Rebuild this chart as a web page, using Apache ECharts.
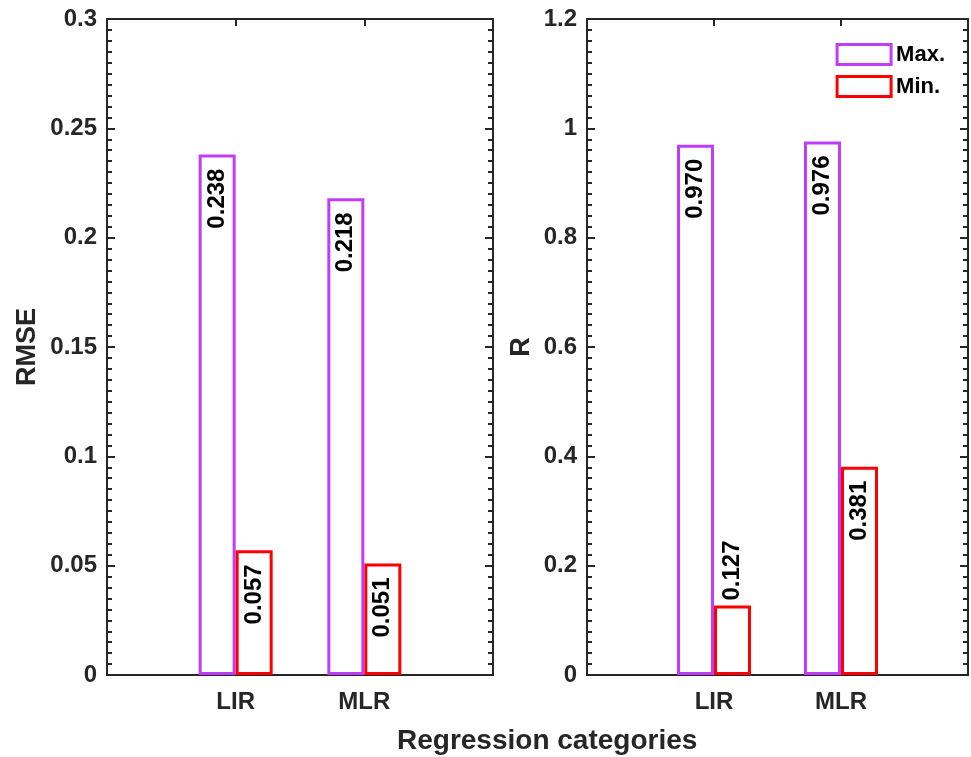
<!DOCTYPE html>
<html>
<head>
<meta charset="utf-8">
<script src="https://cdn.jsdelivr.net/npm/echarts@6/dist/echarts.min.js"></script>
<style>
  html, body { margin: 0; padding: 0; background: #fff; }
  #chart { width: 971px; height: 757px; }
</style>
</head>
<body>
<div id="chart"></div>
<script>
// categories sit at 1 and 2 on a 0..3 axis, like the original figure
const categories = ['', 'LIR', 'MLR', ''];
const rmseMax = [0.238, 0.218];
const rmseMin = [0.057, 0.051];
const rMax = [0.970, 0.976];
const rMin = [0.127, 0.381];
const rmseTicks = [0, 0.05, 0.1, 0.15, 0.2, 0.25, 0.3];
const rTicks = [0, 0.2, 0.4, 0.6, 0.8, 1, 1.2];

const axisColor = '#262626';
const purple = '#bf3cff';
const red = '#ff0000';
const font = "'Liberation Sans', Arial, Helvetica, sans-serif";

const chart = echarts.init(document.getElementById('chart'));

// pad the two real groups with empty slots at both ends
const pad = arr => ['-', ...arr, '-'];

// label placement: inside the bar top, except where the bar is too short
function barData(values, outside) {
  return pad(values.map((v, i) => {
    const above = outside && outside[i];
    return {
      value: v,
      label: {
        position: above ? 'top' : 'insideTop',
        align: above ? 'left' : 'right',
        distance: above ? 5 : 14
      }
    };
  }));
}

const labelBase = {
  show: true,
  rotate: 90,
  verticalAlign: 'middle',
  color: '#000',
  fontFamily: font,
  fontWeight: 'bold',
  fontSize: 24,
  formatter: p => p.value.toFixed(3)
};

function xAxes(gridIndex) {
  return [
    {
      type: 'category', gridIndex, data: categories, boundaryGap: false,
      axisLine: { show: true, onZero: false, lineStyle: { color: axisColor, width: 2 } },
      axisTick: { show: false },
      axisLabel: {
        interval: 0, margin: 15, color: axisColor, fontFamily: font,
        fontWeight: 'bold', fontSize: 24
      },
      splitLine: { show: false }
    },
    {
      type: 'category', gridIndex, position: 'top', data: categories, boundaryGap: false,
      axisLine: { show: true, onZero: false, lineStyle: { color: axisColor, width: 2 } },
      axisTick: {
        show: true, inside: true, length: 7,
        interval: (i) => i === 1 || i === 2,
        lineStyle: { color: axisColor, width: 2 }
      },
      axisLabel: { show: false },
      splitLine: { show: false }
    }
  ];
}

function yAxes(gridIndex, max, interval, name, nameGap) {
  const common = {
    type: 'value', gridIndex, min: 0, max, interval,
    axisLine: { show: true, onZero: false, lineStyle: { color: axisColor, width: 2 } },
    axisTick: { show: true, inside: true, length: 8, lineStyle: { color: axisColor, width: 2 } },
    minorTick: { show: true, splitNumber: 10, length: 5, lineStyle: { color: axisColor, width: 2 } },
    splitLine: { show: false }
  };
  return [
    Object.assign({}, common, {
      position: 'left',
      name, nameLocation: 'middle', nameGap,
      nameTextStyle: { color: axisColor, fontFamily: font, fontWeight: 'bold', fontSize: 27 },
      axisLabel: {
        margin: 10, color: axisColor, fontFamily: font, fontWeight: 'bold', fontSize: 24
      }
    }),
    Object.assign({}, common, {
      position: 'right',
      axisLabel: { show: false }
    })
  ];
}

function barSeries(name, color, xi, yi, data) {
  return {
    name, type: 'bar',
    xAxisIndex: xi, yAxisIndex: yi,
    barWidth: 37, barGap: '0%',
    itemStyle: { color: '#fff', borderColor: color, borderWidth: 3 },
    label: labelBase,
    emphasis: { disabled: true },
    data
  };
}

const option = {
  backgroundColor: '#fff',
  animation: false,
  grid: [
    { left: 107, top: 19, width: 386, height: 656 },
    { left: 587, top: 19, width: 381, height: 656 }
  ],
  legend: {
    data: ['Max.', 'Min.'],
    orient: 'vertical',
    right: 26, top: 43, padding: 0,
    icon: 'rect',
    itemWidth: 54, itemHeight: 20, itemGap: 9,
    itemStyle: { borderWidth: 3 },
    textStyle: { color: '#000', fontFamily: font, fontWeight: 'bold', fontSize: 22 },
    selectedMode: false
  },
  xAxis: [...xAxes(0), ...xAxes(1)],
  yAxis: [
    ...yAxes(0, rmseTicks[rmseTicks.length - 1], rmseTicks[1], 'RMSE', 66),
    ...yAxes(1, rTicks[rTicks.length - 1], rTicks[1], 'R', 52)
  ],
  graphic: [
    {
      type: 'text', left: 397, top: 727,
      style: {
        text: 'Regression categories', fill: axisColor,
        font: "bold 28px 'Liberation Sans', Arial, sans-serif"
      }
    }
  ],
  series: [
    barSeries('Max.', purple, 0, 0, barData(rmseMax)),
    barSeries('Min.', red, 0, 0, barData(rmseMin)),
    barSeries('Max.', purple, 2, 2, barData(rMax)),
    barSeries('Min.', red, 2, 2, barData(rMin, [true, false]))
  ]
};

option && chart.setOption(option);
</script>
</body>
</html>
